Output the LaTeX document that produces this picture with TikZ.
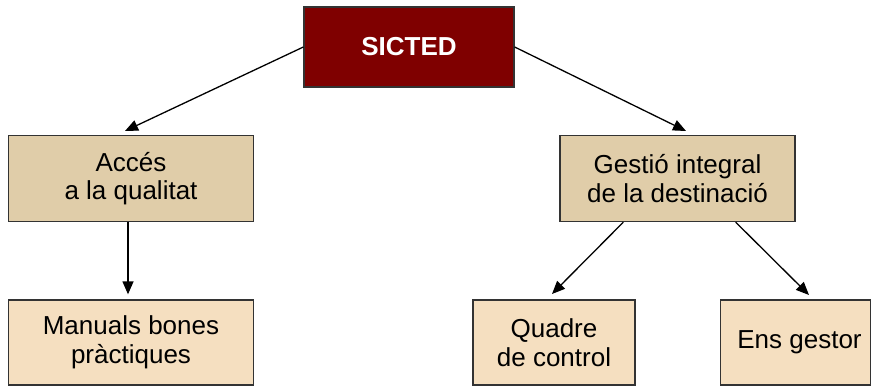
\documentclass[tikz,border=0pt]{standalone}
\usepackage{fontspec}
\setmainfont{Liberation Sans}
\usetikzlibrary{arrows.meta}
\definecolor{topred}{HTML}{7F0000}
\definecolor{midtan}{HTML}{E0CDA9}
\definecolor{lowtan}{HTML}{F5DFC0}
\definecolor{edgegray}{HTML}{333333}
\tikzset{
  box/.style={draw=edgegray, line width=1.3pt, align=center, inner sep=0pt,
    font=\fontsize{26}{28.5}\selectfont, text=black},
  topbox/.style={box, fill=topred, text=white, font=\fontsize{26}{28.5}\selectfont\bfseries},
  midbox/.style={box, fill=midtan},
  lowbox/.style={box, fill=lowtan},
  link/.style={line width=1.3pt, -{Triangle[length=13pt,width=11pt]}, shorten >=5pt}
}
\begin{document}
\begin{tikzpicture}[x=1pt,y=-1pt]
\useasboundingbox (0,0) rectangle (872,387);
\node[topbox, minimum width=210pt, minimum height=80pt] (sicted) at (409,47) {SICTED};
\node[midbox, minimum width=245pt, minimum height=86pt] (acces) at (131,178.5) {Accés\\a la qualitat};
\node[midbox, minimum width=235pt, minimum height=86pt] (gestio) at (677.5,178.5) {Gestió integral\\de la destinació};
\node[lowbox, minimum width=245pt, minimum height=85pt] (manuals) at (131,342.5) {Manuals bones\\pràctiques};
\node[lowbox, minimum width=162pt, minimum height=85pt] (quadre) at (554,342.5) {Quadre\\de control};
\node[lowbox, minimum width=150pt, minimum height=85pt] (ens) at (795.5,342.5) {\hspace*{8pt}Ens gestor};
\coordinate (t1) at (125,131);
\coordinate (t2) at (686,131);
\coordinate (t3) at (552,294);
\coordinate (t4) at (809,295);
\coordinate (g1) at ([xshift=64pt]gestio.south west);
\coordinate (g2) at ([xshift=-60pt]gestio.south east);
\coordinate (a1) at ([xshift=-3pt]acces.south);
\coordinate (m1) at ([xshift=-3pt]manuals.north);
\draw[link, shorten >=0pt] (sicted.west) -- (t1);
\draw[link, shorten >=0pt] (sicted.east) -- (t2);
\draw[link] (a1) -- (m1);
\draw[link, shorten >=0pt] (g1) -- (t3);
\draw[link, shorten >=0pt] (g2) -- (t4);
\end{tikzpicture}
\end{document}
